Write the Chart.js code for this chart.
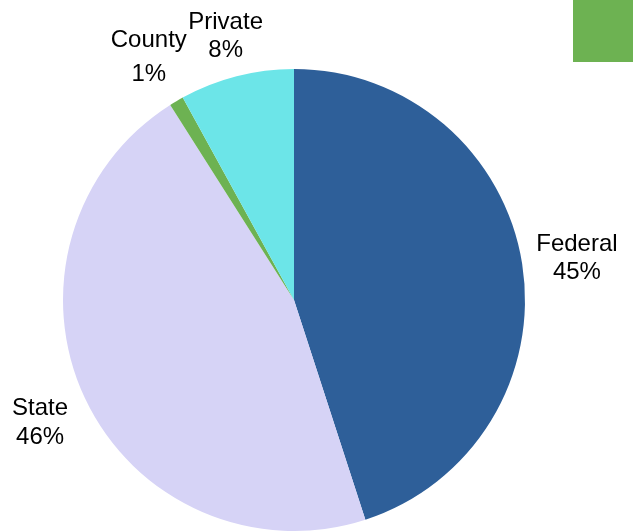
<!DOCTYPE html>
<html>
<head>
<meta charset="utf-8">
<script src="https://cdn.jsdelivr.net/npm/chart.js@4"></script>
<style>
  html, body { margin: 0; padding: 0; background: #fff; }
  canvas { display: block; }
</style>
</head>
<body>
<canvas id="myChart" width="633" height="531"></canvas>
<script>
const categorias = ['Federal', 'State', 'County', 'Private'];
const valores = [45, 46, 1, 8];
const colores = ['#2E5F99', '#D6D3F6', '#6DB252', '#6CE5E8'];

// etiquetas fuera del pastel
const distancia = [1.24, 1.215, 1.235, 1.19];
const separacion = [14, 14.5, 17, 14];
const etiquetas = {
    id: 'etiquetas',
    afterDatasetsDraw(chart) {
        const c = chart.ctx;
        const meta = chart.getDatasetMeta(0);
        const total = valores.reduce((a, b) => a + b, 0);
        c.save();
        c.fillStyle = '#000';
        c.font = '24px "Liberation Sans", Arial, sans-serif';
        c.textAlign = 'center';
        c.textBaseline = 'middle';
        meta.data.forEach((arc, i) => {
            const mid = (arc.startAngle + arc.endAngle) / 2;
            const r = arc.outerRadius * distancia[i];
            const x = arc.x + Math.cos(mid) * r;
            const y = arc.y + Math.sin(mid) * r + 3;
            const pct = Math.round(valores[i] / total * 100) + '%';
            c.fillText(categorias[i], x, y - separacion[i]);
            c.fillText(pct, x, y + separacion[i]);
        });
        // cuadro verde arriba a la derecha
        c.fillStyle = '#6DB252';
        c.fillRect(573, 0, 60, 62);
        c.restore();
    }
};

const ctx = document.getElementById('myChart').getContext('2d');
const myChart = new Chart(ctx, {
    type: 'pie',
    data: {
        labels: categorias,
        datasets: [{
            data: valores,
            backgroundColor: colores,
            borderWidth: 0
        }]
    },
    options: {
        responsive: false,
        animation: false,
        layout: { padding: { left: 62, right: 107, top: 69, bottom: 0 } },
        plugins: {
            legend: { display: false },
            tooltip: { enabled: false }
        }
    },
    plugins: [etiquetas]
});
</script>
</body>
</html>
